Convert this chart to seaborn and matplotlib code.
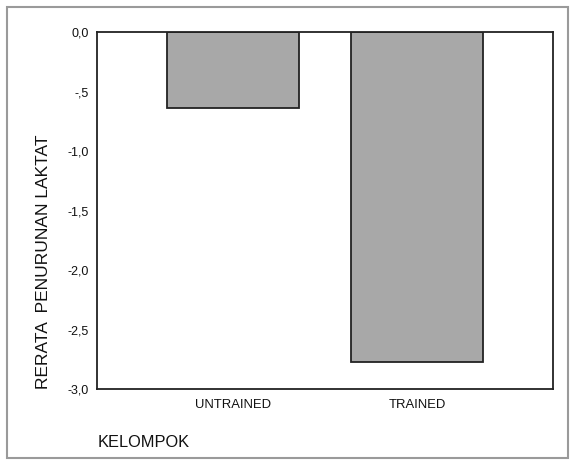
import numpy as np
import pandas as pd
import matplotlib
matplotlib.use("Agg")
import matplotlib.pyplot as plt
from matplotlib.patches import Rectangle
import seaborn as sns

kelompok = ["UNTRAINED", "TRAINED"]
rerata = [-0.64, -2.77]
yticks = [0.0, -0.5, -1.0, -1.5, -2.0, -2.5, -3.0]
ytick_labels = ["0,0", "-,5", "-1,0", "-1,5", "-2,0", "-2,5", "-3,0"]

sns.set_style("white")
plt.rcParams["font.family"] = ["Liberation Sans", "DejaVu Sans"]
plt.rcParams["text.color"] = "#111111"
plt.rcParams["xtick.color"] = "#111111"
plt.rcParams["ytick.color"] = "#111111"

df = pd.DataFrame({"KELOMPOK": kelompok, "RERATA": rerata})

fig = plt.figure(figsize=(5.71, 4.61), dpi=100)
ax = fig.add_axes([97 / 571, 1 - 389 / 461, (553 - 97) / 571, (389 - 32) / 461])

sns.barplot(data=df, x="KELOMPOK", y="RERATA", color="#a8a8a8", saturation=1,
            width=0.72, edgecolor="#222222", linewidth=1.3, ax=ax)

ax.set_xlim(-0.74, 1.74)
ax.set_ylim(-3.0, 0.0)
ax.set_yticks(yticks)
ax.set_yticklabels(ytick_labels, fontsize=9)
ax.set_xticks(range(len(kelompok)))
ax.set_xticklabels(kelompok, fontsize=9.4)
ax.tick_params(axis="y", direction="out", length=4, width=1.2, color="#222222", pad=2)
ax.tick_params(axis="x", direction="out", length=3, width=1.2, color="#222222", pad=4)
for s in ax.spines.values():
    s.set_visible(True)
    s.set_color("#222222")
    s.set_linewidth(1.3)
ax.set_xlabel("")
ax.set_ylabel("")

fig.text(44 / 571, 1 - 389 / 461, "RERATA  PENURUNAN LAKTAT", rotation=90,
         ha="center", va="bottom", fontsize=12.5)
fig.text(98 / 571, 1 - 442 / 461, "KELOMPOK", ha="left", va="center", fontsize=11.8)

fig.patches.append(Rectangle((7 / 571, 1 - 458 / 461), 561 / 571, 451 / 461,
                             transform=fig.transFigure, fill=False,
                             edgecolor="#9a9a9a", linewidth=1.5))

fig.savefig("out.png", dpi=100)
